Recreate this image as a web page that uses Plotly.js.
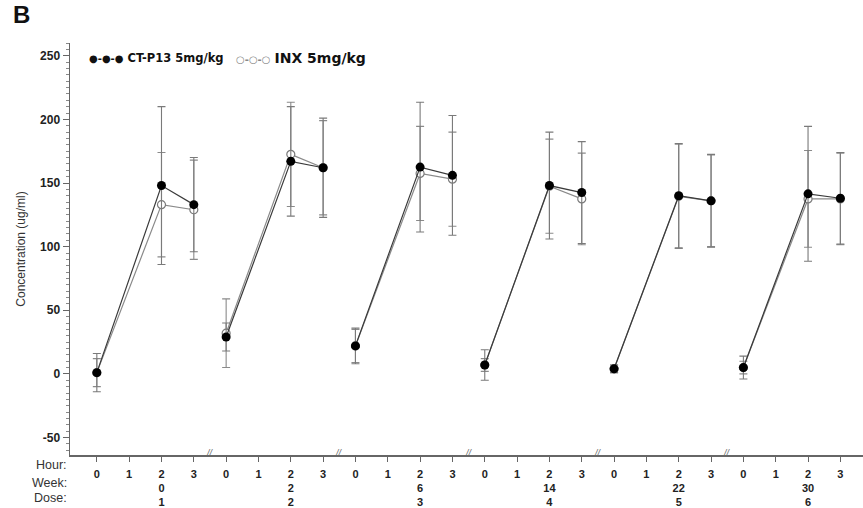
<!DOCTYPE html>
<html>
<head>
<meta charset="utf-8">
<script src="https://cdn.plot.ly/plotly-3.0.1.min.js"></script>
<style>html,body{margin:0;padding:0;background:#fff;}#chart{width:863px;height:508px;}</style>
</head>
<body>
<div id="chart"></div>
<script>
// ---- data ----
const tickHours = [0, 1, 2, 3];          // hour ticks shown per dosing period
const hours = [0, 2, 3];                  // sampled hours
const weeks = [0, 2, 6, 14, 22, 30];
const doses = [1, 2, 3, 4, 5, 6];
const yTickVals = [-50, 0, 50, 100, 150, 200, 250];
const yTickText = ['-50', '0', '50', '100', '150', '200', '250'];

// CT-P13 5mg/kg (mean, SD), per dose: hour 0, 2, 3
const ctMean = [1, 148, 133,   29, 167, 162,   22, 162.5, 156,   7, 148, 142.5,   4, 140, 136,   5, 141.5, 138];
const ctSD   = [15, 62, 37,    11, 43, 39,     14, 51, 47,       12, 42, 40,      3, 41, 36.5,   9, 53, 36];
// INX 5mg/kg
const inxMean = [1, 133, 129,  32, 172.5, 162, 22, 157.5, 153,   7, 147.5, 137.5, 4, 139.5, 136,  5, 137.5, 137.5];
const inxSD   = [11, 41, 39,   27, 41, 37,     13, 37, 37,       5, 37, 36,       3, 41, 36,     5, 38, 36];

const seriesNames = ['CT-P13 5mg/kg', 'INX 5mg/kg'];

// ---- build traces ----
function build(mean, sd) {
  const x = [], y = [], e = [];
  weeks.forEach((w, g) => {
    hours.forEach((h, i) => {
      x.push(g * tickHours.length + h);
      y.push(mean[g * hours.length + i]);
      e.push(sd[g * hours.length + i]);
    });
    x.push(null); y.push(null); e.push(null);
  });
  return {x, y, e};
}

const ct = build(ctMean, ctSD);
const inx = build(inxMean, inxSD);

const fontFam = '"Liberation Sans", Arial, sans-serif';
const legFam = '"DejaVu Sans", sans-serif';

const traces = [
  {
    x: inx.x, y: inx.y, type: 'scatter', mode: 'lines+markers', connectgaps: false,
    name: seriesNames[1], showlegend: false,
    line: {color: '#8a8a8a', width: 1.2},
    marker: {symbol: 'circle', size: 8, color: '#ffffff', line: {color: '#7a7a7a', width: 1.2}},
    error_y: {type: 'data', array: inx.e, visible: true, color: '#8a8a8a', thickness: 1.1, width: 4}
  },
  {
    x: ct.x, y: ct.y, type: 'scatter', mode: 'lines+markers', connectgaps: false,
    name: seriesNames[0], showlegend: false,
    line: {color: '#3a3a3a', width: 1.2},
    marker: {symbol: 'circle', size: 9, color: '#000000'},
    error_y: {type: 'data', array: ct.e, visible: true, color: '#7a7a7a', thickness: 1.1, width: 4}
  }
];

// tick labels: hour / week / dose rows
const tickvals = [], ticktext = [];
weeks.forEach((w, g) => {
  tickHours.forEach(h => {
    tickvals.push(g * tickHours.length + h);
    ticktext.push(h === 2 ? (h + '<br>' + w + '<br>' + doses[g]) : String(h));
  });
});

const labFont = {family: fontFam, size: 12.5, color: '#333'};
const annotations = [
  {text: 'B', xref: 'paper', yref: 'paper', x: -0.075, y: 1.07, xanchor: 'left', yanchor: 'middle',
   showarrow: false, font: {family: fontFam, size: 24, color: '#111', weight: 'bold'}},
  {text: 'Hour:', xref: 'paper', yref: 'paper', x: -0.001, y: -0.025, xanchor: 'right', yanchor: 'middle', showarrow: false, font: labFont},
  {text: 'Week:', xref: 'paper', yref: 'paper', x: -0.001, y: -0.068, xanchor: 'right', yanchor: 'middle', showarrow: false, font: labFont},
  {text: 'Dose:', xref: 'paper', yref: 'paper', x: -0.001, y: -0.105, xanchor: 'right', yanchor: 'middle', showarrow: false, font: labFont},
  // legend
  {text: '<span style="font-size:10px">●-●-●</span> ' + seriesNames[0], xref: 'paper', yref: 'paper',
   x: 0.0215, y: 0.964, xanchor: 'left', yanchor: 'middle', showarrow: false,
   font: {family: legFam, size: 11.5, color: '#111', weight: 'bold'}},
  {text: '<span style="font-size:10px;color:#888">○-○-○</span> <span style="font-size:14px">' + seriesNames[1] + '</span>',
   xref: 'paper', yref: 'paper', x: 0.207, y: 0.964, xanchor: 'left', yanchor: 'middle', showarrow: false,
   font: {family: legFam, size: 11.5, color: '#111', weight: 'bold'}}
];
// axis break marks between dosing periods
weeks.slice(1).forEach((w, g) => {
  annotations.push({text: '//', xref: 'x', yref: 'paper', x: (g + 1) * tickHours.length - 0.5, y: 0.006,
    xanchor: 'center', yanchor: 'middle', showarrow: false,
    font: {family: fontFam, size: 9, color: '#666', style: 'italic'}});
});

const layout = {
  width: 863, height: 508,
  margin: {l: 70, r: 0, t: 43, b: 53},
  paper_bgcolor: '#fff', plot_bgcolor: '#fff',
  showlegend: false,
  xaxis: {
    range: [-0.83, 23.7], tickmode: 'array', tickvals: tickvals, ticktext: ticktext, tickangle: 0,
    ticks: 'outside', ticklen: 5, tickwidth: 1, tickcolor: '#666',
    showline: true, linecolor: '#666', linewidth: 1.5, showgrid: false, zeroline: false,
    tickfont: {family: fontFam, size: 11, color: '#222', weight: 'bold'}, ticklabelstandoff: 3
  },
  yaxis: {
    range: [-63.7, 260], tickmode: 'array', tickvals: yTickVals, ticktext: yTickText,
    ticks: 'outside', ticklen: 6, tickwidth: 1, tickcolor: '#666',
    minor: {dtick: 5, ticks: 'outside', ticklen: 3, tickcolor: '#888', tickwidth: 1, showgrid: false},
    showline: true, linecolor: '#666', linewidth: 1.5, showgrid: false, zeroline: false,
    tickfont: {family: fontFam, size: 12, color: '#222', weight: 'bold'},
    title: {text: 'Concentration (ug/ml)', standoff: 12,
      font: {family: fontFam, size: 12, color: '#333'}}
  },
  annotations: annotations
};

Plotly.newPlot('chart', traces, layout, {displayModeBar: false, staticPlot: true});
</script>
</body>
</html>
